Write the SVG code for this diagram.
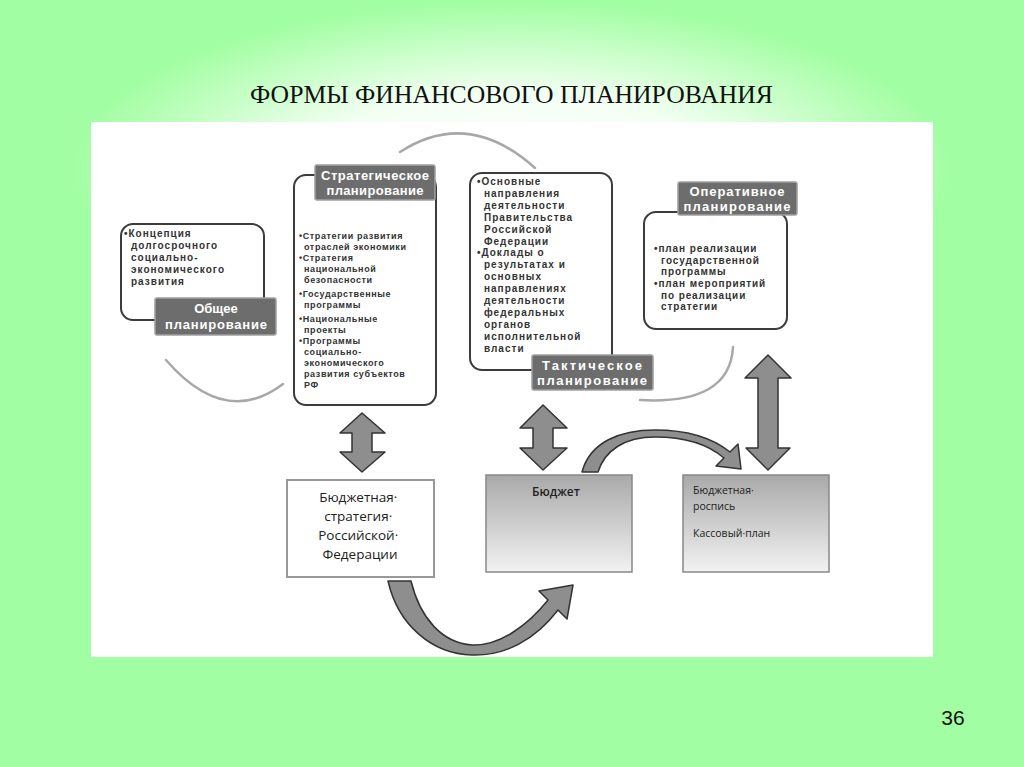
<svg xmlns="http://www.w3.org/2000/svg" width="1024" height="767" viewBox="0 0 1024 767">
<defs>
<radialGradient id="glow" gradientUnits="userSpaceOnUse" cx="512" cy="170" r="400" gradientTransform="translate(512 170) scale(1.1 0.42) translate(-512 -170)">
<stop offset="0" stop-color="#ffffff"/>
<stop offset="0.45" stop-color="#f4fff4"/>
<stop offset="1" stop-color="#a2fea2"/>
</radialGradient>
<linearGradient id="boxg" x1="0" y1="0" x2="0" y2="1">
<stop offset="0" stop-color="#a9a9a9"/>
<stop offset="1" stop-color="#f2f2f2"/>
</linearGradient>
<style>
.frame{fill:none;stroke:#3c3c3c;stroke-width:2}
.lbl{fill:#6d6d6d;stroke:#a0a0a0;stroke-width:1.5}
.lt{font-family:"Liberation Sans",Arial,sans-serif;font-weight:700;font-size:13px;fill:#ffffff;text-anchor:middle}
.bt{font-family:"Liberation Sans",Arial,sans-serif;font-weight:700;fill:#333333}
.blk{fill:#8e8e8e;stroke:#333333;stroke-width:1.5;stroke-linejoin:round}
.arc{fill:none;stroke:#a8a8a8;stroke-width:2.5;stroke-linecap:round}
.bx{font-family:"Open Sans","Liberation Sans",sans-serif;fill:#222222}
.title{font-family:"Liberation Serif","Times New Roman",serif;font-size:26px;fill:#111111}
</style>
</defs>
<rect x="0" y="0" width="1024" height="767" fill="#a2fea2"/>
<rect x="0" y="0" width="1024" height="767" fill="url(#glow)"/>
<rect x="91" y="122" width="842" height="535" fill="#ffffff"/>
<text class="title" x="250" y="103" textLength="523" lengthAdjust="spacingAndGlyphs">ФОРМЫ ФИНАНСОВОГО ПЛАНИРОВАНИЯ</text>

<g id="connectors">
<path class="arc" d="M 400 152 Q 468 108 535 168"/>
<path class="arc" d="M 166 360 Q 225 428 283 384"/>
<path class="arc" d="M 640 400 Q 730 405 733 347"/>
<path class="blk" d="M 362 413 L 385 433 L 372 433 L 372 452 L 385 452 L 362 472 L 340 452 L 352 452 L 352 433 L 340 433 Z"/>
<path class="blk" d="M 543 405 L 567 428 L 553 428 L 553 448 L 567 448 L 543 470 L 520 448 L 533 448 L 533 428 L 520 428 Z"/>
<path class="blk" d="M 768 355 L 791 378 L 778 378 L 778 448 L 790 448 L 768 470 L 746 448 L 758 448 L 758 378 L 745 378 Z"/>
<path class="blk" d="M 388 581 L 411 581 C 420 618 442 643 472 645 C 500 646 528 625 548 600 L 539 591 L 573 585 L 567 619 L 558 610 C 535 640 505 656 472 655 C 432 654 398 625 388 581 Z"/>
<path class="blk" d="M 582 472 C 590 442 620 430 655 430 C 690 430 715 440 730 452 L 738 444 L 741 469 L 716 466 L 724 458 C 710 446 688 437 655 437 C 625 437 605 450 598 472 Z"/>
</g>

<g id="general">
<rect class="frame" x="121" y="224" width="143" height="96" rx="12"/>
<text class="bt" font-size="10" letter-spacing="1">
<tspan x="124" y="237">•Концепция</tspan>
<tspan x="131" y="249">долгосрочного</tspan>
<tspan x="131" y="261">социально-</tspan>
<tspan x="131" y="273">экономического</tspan>
<tspan x="131" y="285">развития</tspan>
</text>
<rect class="lbl" x="155" y="298" width="121" height="37" rx="2"/>
<text class="lt"><tspan x="216" y="313">Общее</tspan><tspan x="216" y="329" textLength="102" lengthAdjust="spacing">планирование</tspan></text>
</g>

<g id="strategic">
<rect class="frame" x="294" y="175" width="142" height="230" rx="12"/>
<text class="bt" font-size="9" letter-spacing="0.6">
<tspan x="299" y="239">•Стратегии развития</tspan>
<tspan x="304" y="250">отраслей экономики</tspan>
<tspan x="299" y="261">•Стратегия</tspan>
<tspan x="304" y="272">национальной</tspan>
<tspan x="304" y="283">безопасности</tspan>
<tspan x="299" y="297">•Государственные</tspan>
<tspan x="304" y="308">программы</tspan>
<tspan x="299" y="322">•Национальные</tspan>
<tspan x="304" y="333">проекты</tspan>
<tspan x="299" y="344">•Программы</tspan>
<tspan x="304" y="355">социально-</tspan>
<tspan x="304" y="366">экономического</tspan>
<tspan x="304" y="377">развития субъектов</tspan>
<tspan x="304" y="388">РФ</tspan>
</text>
<rect class="lbl" x="315" y="165" width="120" height="35" rx="2"/>
<text class="lt"><tspan x="375" y="180" textLength="108" lengthAdjust="spacing">Стратегическое</tspan><tspan x="375" y="195" textLength="97" lengthAdjust="spacing">планирование</tspan></text>
</g>

<g id="tactical">
<rect class="frame" x="470" y="173" width="142" height="197" rx="12"/>
<text class="bt" font-size="10" letter-spacing="1">
<tspan x="477" y="185">•Основные</tspan>
<tspan x="484" y="196.9">направления</tspan>
<tspan x="484" y="208.8">деятельности</tspan>
<tspan x="484" y="220.7">Правительства</tspan>
<tspan x="484" y="232.6">Российской</tspan>
<tspan x="484" y="244.5">Федерации</tspan>
<tspan x="477" y="256.4">•Доклады о</tspan>
<tspan x="484" y="268.3">результатах и</tspan>
<tspan x="484" y="280.2">основных</tspan>
<tspan x="484" y="292.1">направлениях</tspan>
<tspan x="484" y="304">деятельности</tspan>
<tspan x="484" y="315.9">федеральных</tspan>
<tspan x="484" y="327.8">органов</tspan>
<tspan x="484" y="339.7">исполнительной</tspan>
<tspan x="484" y="351.6">власти</tspan>
</text>
<rect class="lbl" x="532" y="355" width="121" height="35" rx="2"/>
<text class="lt"><tspan x="592" y="370" textLength="100" lengthAdjust="spacing">Тактическое</tspan><tspan x="592" y="385" textLength="110" lengthAdjust="spacing">планирование</tspan></text>
</g>

<g id="operational">
<rect class="frame" x="644" y="212" width="143" height="117" rx="12"/>
<text class="bt" font-size="10" letter-spacing="0.9">
<tspan x="654" y="252">•план реализации</tspan>
<tspan x="661" y="263.5">государственной</tspan>
<tspan x="661" y="275">программы</tspan>
<tspan x="654" y="287">•план мероприятий</tspan>
<tspan x="661" y="298.5">по реализации</tspan>
<tspan x="661" y="310">стратегии</tspan>
</text>
<rect class="lbl" x="678" y="182" width="119" height="33" rx="2"/>
<text class="lt"><tspan x="737" y="196" textLength="95" lengthAdjust="spacing">Оперативное</tspan><tspan x="737" y="211" textLength="107" lengthAdjust="spacing">планирование</tspan></text>
</g>

<g id="budget-strategy">
<rect x="287" y="480" width="147" height="97" fill="#ffffff" stroke="#999999" stroke-width="2"/>
<text class="bx" font-size="13.5" text-anchor="middle">
<tspan x="360" y="502">Бюджетная·</tspan>
<tspan x="360" y="521">стратегия·</tspan>
<tspan x="360" y="540">Российской·</tspan>
<tspan x="360" y="559">Федерации</tspan>
</text>
</g>

<g id="budget">
<rect x="486" y="475" width="146" height="97" fill="url(#boxg)" stroke="#888888" stroke-width="1.5"/>
<text class="bx" font-size="12" font-weight="600" x="556" y="496" text-anchor="middle">Бюджет</text>
</g>

<g id="budget-list">
<rect x="683" y="475" width="146" height="97" fill="url(#boxg)" stroke="#888888" stroke-width="1.5"/>
<text class="bx" font-size="10.5">
<tspan x="693" y="494">Бюджетная·</tspan>
<tspan x="693" y="510">роспись</tspan>
<tspan x="693" y="537">Кассовый·план</tspan>
</text>
</g>

<text x="953" y="725" font-family="Liberation Sans, sans-serif" font-size="21" fill="#111111" text-anchor="middle">36</text>
</svg>
